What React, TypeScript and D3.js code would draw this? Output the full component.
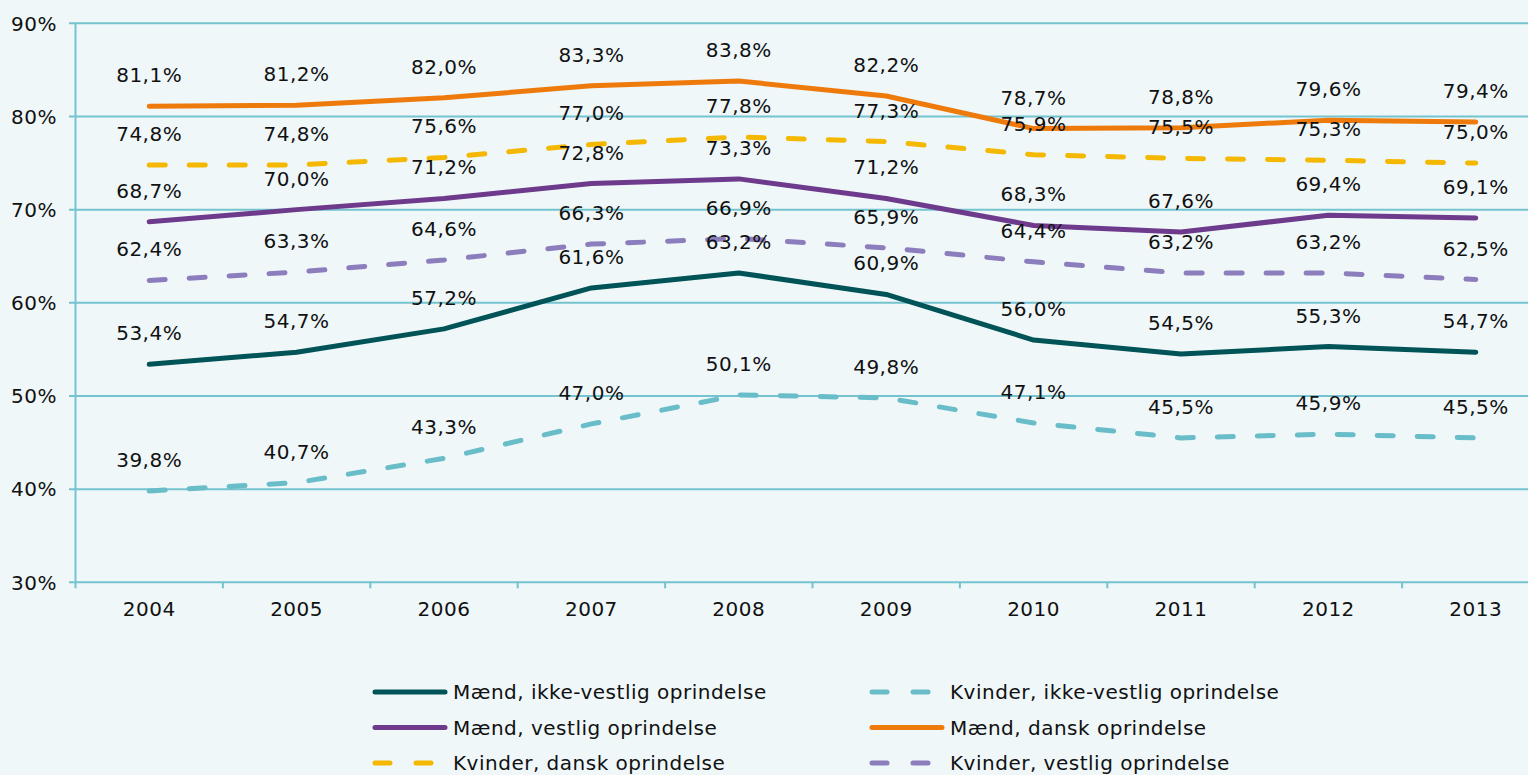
import React, { useRef, useEffect } from 'react';
import * as d3 from 'd3';

const years = ['2004', '2005', '2006', '2007', '2008', '2009', '2010', '2011', '2012', '2013'];
const yTicks = [30, 40, 50, 60, 70, 80, 90];

const maendIkkeVestlig = [53.4, 54.7, 57.2, 61.6, 63.2, 60.9, 56.0, 54.5, 55.3, 54.7];
const kvinderIkkeVestlig = [39.8, 40.7, 43.3, 47.0, 50.1, 49.8, 47.1, 45.5, 45.9, 45.5];
const maendVestlig = [68.7, 70.0, 71.2, 72.8, 73.3, 71.2, 68.3, 67.6, 69.4, 69.1];
const maendDansk = [81.1, 81.2, 82.0, 83.3, 83.8, 82.2, 78.7, 78.8, 79.6, 79.4];
const kvinderDansk = [74.8, 74.8, 75.6, 77.0, 77.8, 77.3, 75.9, 75.5, 75.3, 75.0];
const kvinderVestlig = [62.4, 63.3, 64.6, 66.3, 66.9, 65.9, 64.4, 63.2, 63.2, 62.5];

const series = [
    { name: 'Mænd, ikke-vestlig oprindelse', values: maendIkkeVestlig, color: '#005356', dashed: false },
    { name: 'Kvinder, ikke-vestlig oprindelse', values: kvinderIkkeVestlig, color: '#68bdc8', dashed: true },
    { name: 'Mænd, vestlig oprindelse', values: maendVestlig, color: '#6d3a8c', dashed: false },
    { name: 'Mænd, dansk oprindelse', values: maendDansk, color: '#ee7a0c', dashed: false },
    { name: 'Kvinder, dansk oprindelse', values: kvinderDansk, color: '#f5b800', dashed: true },
    { name: 'Kvinder, vestlig oprindelse', values: kvinderVestlig, color: '#8c7dbd', dashed: true },
];

const fmt = (v: number) => v.toFixed(1).replace('.', ',') + '%';

const App = () => {
    const ref = useRef<SVGSVGElement>(null);

    useEffect(() => {
        const svg = d3.select(ref.current);
        svg.selectAll('*').remove();

        const width = 1528;
        const height = 775;
        const font = '"DejaVu Sans", Verdana, sans-serif';
        const fs = 20;
        const ls = 0.5;
        const grid = '#74c3cf';

        svg.append('rect').attr('width', width).attr('height', height).attr('fill', '#eff7f9');

        const x = d3.scaleBand().domain(years).range([75.5, 1549.5]);
        const y = d3.scaleLinear().domain([30, 90]).range([582.3, 23.3]);
        const cx = (d: string) => (x(d) as number) + x.bandwidth() / 2;

        // gridlines
        svg.append('g').selectAll('line').data(yTicks).join('line')
            .attr('x1', 69).attr('x2', width).attr('y1', d => y(d)).attr('y2', d => y(d))
            .attr('stroke', grid).attr('stroke-width', 2);

        // y axis line
        svg.append('line').attr('x1', 75.5).attr('x2', 75.5).attr('y1', y(90)).attr('y2', y(30) + 6)
            .attr('stroke', grid).attr('stroke-width', 2);

        // x ticks between categories
        svg.append('g').selectAll('line').data(years).join('line')
            .attr('x1', d => (x(d) as number) + x.bandwidth()).attr('x2', d => (x(d) as number) + x.bandwidth())
            .attr('y1', y(30)).attr('y2', y(30) + 6).attr('stroke', grid).attr('stroke-width', 2);

        svg.append('g').selectAll('text').data(yTicks).join('text')
            .attr('x', 57).attr('y', d => y(d)).attr('dy', '0.36em').attr('text-anchor', 'end')
            .attr('font-family', font).attr('font-size', fs).attr('letter-spacing', ls).attr('fill', '#111')
            .text(d => d + '%');

        svg.append('g').selectAll('text').data(years).join('text')
            .attr('x', d => cx(d)).attr('y', 616).attr('text-anchor', 'middle')
            .attr('font-family', font).attr('font-size', fs).attr('letter-spacing', ls).attr('fill', '#111')
            .text(d => d);

        const line = d3.line<number>().x((d, i) => cx(years[i])).y(d => y(d));

        series.forEach(s => {
            svg.append('path').datum(s.values).attr('fill', 'none').attr('stroke', s.color)
                .attr('stroke-width', 5).attr('stroke-linecap', 'round').attr('stroke-linejoin', 'round')
                .attr('stroke-dasharray', s.dashed ? '16,24' : null).attr('d', line);
        });

        series.forEach(s => {
            svg.append('g').selectAll('text').data(s.values).join('text')
                .attr('x', (d, i) => cx(years[i])).attr('y', d => y(d) - 24).attr('text-anchor', 'middle')
                .attr('font-family', font).attr('font-size', fs).attr('letter-spacing', ls).attr('fill', '#111')
                .text(d => fmt(d));
        });

        // legend
        const legend = svg.append('g');
        series.forEach((s, i) => {
            const col = i % 2;
            const row = Math.floor(i / 2);
            const lx = col === 0 ? 375 : 872;
            const ly = 692 + row * 35.5;
            if (s.dashed) {
                legend.append('line').attr('x1', lx).attr('x2', lx + 15).attr('y1', ly).attr('y2', ly)
                    .attr('stroke', s.color).attr('stroke-width', 5).attr('stroke-linecap', 'round');
                legend.append('line').attr('x1', lx + 41).attr('x2', lx + 56).attr('y1', ly).attr('y2', ly)
                    .attr('stroke', s.color).attr('stroke-width', 5).attr('stroke-linecap', 'round');
            } else {
                legend.append('line').attr('x1', lx).attr('x2', lx + 70).attr('y1', ly).attr('y2', ly)
                    .attr('stroke', s.color).attr('stroke-width', 5).attr('stroke-linecap', 'round');
            }
            legend.append('text').attr('x', lx + 78).attr('y', ly).attr('dy', '0.36em')
                .attr('font-family', font).attr('font-size', fs).attr('letter-spacing', ls).attr('fill', '#111')
                .text(s.name);
        });
    }, []);

    return <svg ref={ref} width={1528} height={775} style={{ position: 'absolute', left: 0, top: 0 }}></svg>;
};

export default App;
